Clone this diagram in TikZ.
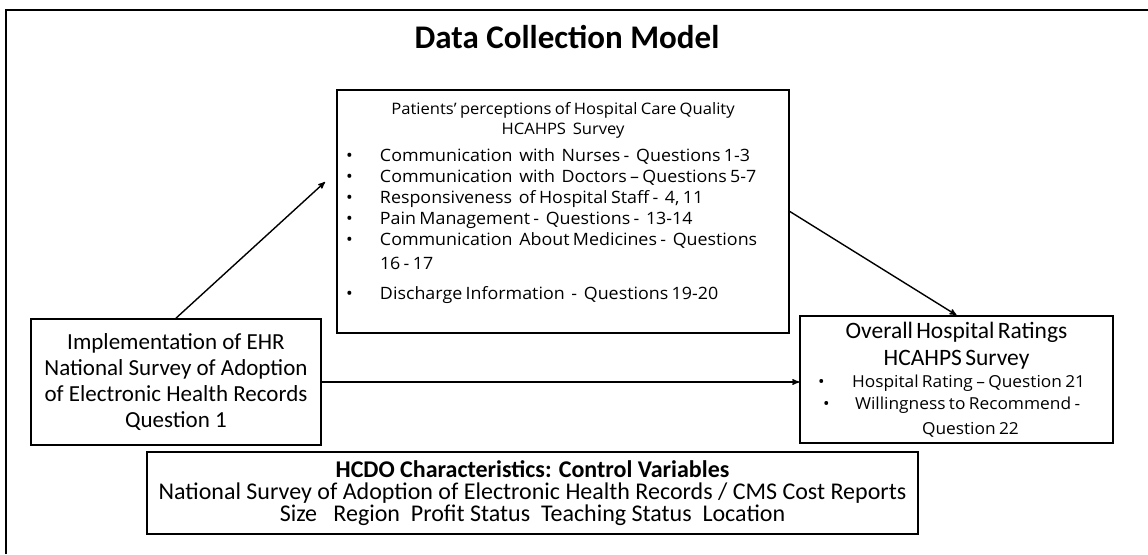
\documentclass[tikz,border=0pt]{standalone}
\usepackage{fontspec}
\setmainfont{Carlito}
\newfontfamily\listfont[FakeStretch=1.05]{Open Sans}
\usetikzlibrary{arrows}
\lineskiplimit=-30pt
\tikzset{
  box/.style = {draw=black, line width=1.7pt, inner sep=0pt, align=center},
  listbox/.style = {box, align=left},% boite avec liste
  frame/.style = {line width=1.8pt},% cadre de la page
  link/.style = {->, line width=1.4pt}% fleche entre boites
}
\newcommand{\bitem}[2][9pt]{\hspace*{#1}\makebox[34pt][l]{\textbullet}#2\par}
\newcommand{\bcont}[1]{\hspace*{43pt}#1\par}

\begin{document}
\begin{tikzpicture}[x=1pt, y=-1pt, >=stealth']
  \useasboundingbox (0,0) rectangle (1148,554);
  \draw [frame] (6,554) -- (6,10) -- (1148,10);
  \node [font=\bfseries\fontsize{33}{35}\selectfont] (title) at (567,37) {Data Collection Model};
  \node [listbox, text width=452pt, minimum height=243pt] (patients) at (563,211.5) {%
    \listfont\fontsize{15.8}{20}\selectfont\centering
    Patients’ perceptions of Hospital Care Quality\par
    HCAHPS\ \ Survey\par
    \vspace{6pt}\raggedright\fontsize{17}{21}\selectfont
    \bitem{Communication\ \ with\ \ Nurses -\ \ Questions 1-3}
    \bitem{Communication\ \ with\ \ Doctors – Questions 5-7}
    \bitem{Responsiveness\ \ of Hospital Staff -\ \ 4, 11}
    \bitem{Pain Management -\ \ Questions -\ \ 13-14}
    \bitem{Communication\ \ About Medicines -\ \ Questions}
    \vspace{3pt}
    \bcont{16 - 17}
    \vspace{9pt}
    \bitem{Discharge Information\ \ -\ \ Questions 19-20}
    \vspace{10pt}\mbox{}};
  \node [box, minimum width=290pt, minimum height=126pt, font=\fontsize{23}{26}\selectfont] (ehr) at (176,382)
    {Implementation of EHR\\National Survey of Adoption\\of Electronic Health Records\\Question 1};
  \node [listbox, text width=313pt, minimum height=127pt] (rating) at (956.5,379.5) {%
    \fontsize{23.5}{27}\selectfont\centering
    Overall Hospital Ratings\par
    HCAHPS Survey\par
    \raggedright\listfont\fontsize{16.5}{22}\selectfont
    \bitem[18pt]{Hospital Rating – Question 21}
    \hspace*{23pt}\makebox[32pt][l]{\textbullet}Willingness to Recommend -\par
    \vspace{3pt}\hspace*{122pt}Question 22\par};
  \node [box, minimum width=771pt, minimum height=82pt, font=\fontsize{24}{22}\selectfont] (hcdo) at (532.5,493)
    {\textbf{HCDO Characteristics: Control Variables}\\
     National Survey of Adoption of Electronic Health Records / CMS Cost Reports\\
     Size\ \ \ Region\ \ Profit Status\ \ Teaching Status\ \ Location};
  \coordinate (tipA) at (325,182);
  \draw [link] (ehr.north) -- (tipA);
  \draw [link] (patients.east) -- (rating.north);
  \draw [link] (ehr.east) -- (ehr.east -| rating.west);
\end{tikzpicture}
\end{document}
